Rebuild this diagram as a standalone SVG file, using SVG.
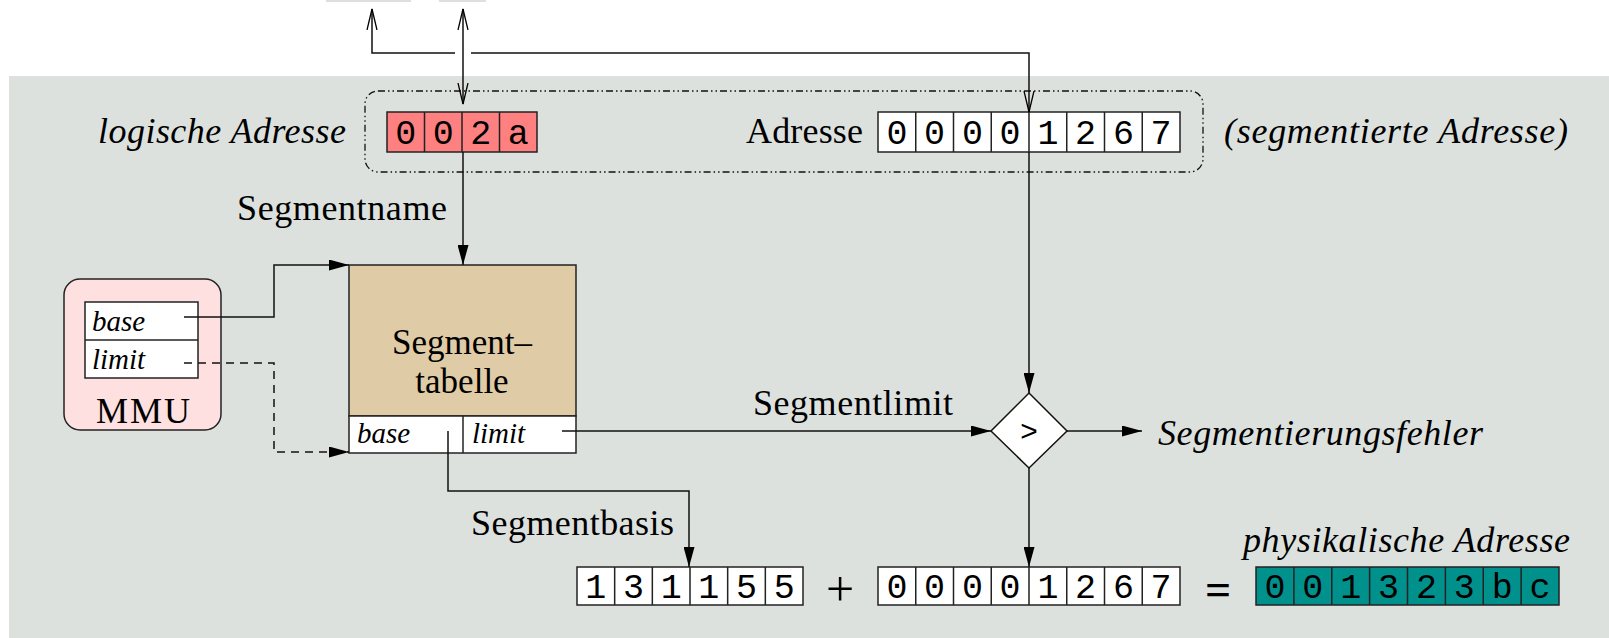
<svg xmlns="http://www.w3.org/2000/svg" width="1609" height="638" viewBox="0 0 1609 638">
<style>
.bg{fill:#dde1de}
.ln{fill:none;stroke:#111;stroke-width:1.5}
.cell{stroke:#222;stroke-width:1.5}
.lbl{font-family:"Liberation Serif",serif;font-size:36px;fill:#000}
.it{font-family:"Liberation Serif",serif;font-style:italic;font-size:36px;fill:#000}
.sit{font-family:"Liberation Serif",serif;font-style:italic;font-size:29px;fill:#000}
.dg{font-family:"Liberation Mono",monospace;font-size:35px;fill:#000;text-anchor:middle}
</style>
<defs>
<marker id="fa" viewBox="0 0 20 11" refX="20" refY="5.5" markerWidth="20" markerHeight="11" markerUnits="userSpaceOnUse" orient="auto"><path d="M0,0 L20,5.5 L0,11 z" fill="#000"/></marker>
<marker id="oa" viewBox="0 0 22 12" refX="21" refY="6" markerWidth="22" markerHeight="12" markerUnits="userSpaceOnUse" orient="auto-start-reverse"><path d="M0,1 L21,6 L0,11" fill="none" stroke="#000" stroke-width="1.3"/></marker>
</defs>
<rect class="bg" x="9" y="76" width="1600" height="562"/>
<rect class="bg" x="326" y="0" width="85" height="2"/>
<rect class="bg" x="439" y="0" width="47" height="2"/>

<g id="addr-frame">
<rect x="365" y="91" width="838" height="81" rx="13" fill="none" stroke="#111" stroke-width="1.3" stroke-dasharray="7 3 1.5 3 1.5 3"/>
</g>

<g id="logical">
<text class="it" x="98" y="143" textLength="248">logische Adresse</text>
<rect x="387" y="112" width="150" height="40" fill="#ff8080" class="cell"/>
<path d="M424.5,112V152M462,112V152M499.5,112V152" class="cell"/>
<text class="dg" y="143.5"><tspan x="405.75">0</tspan><tspan x="443.25">0</tspan><tspan x="480.75">2</tspan><tspan x="518.25">a</tspan></text>
</g>

<g id="seg-addr">
<text class="lbl" x="746" y="143" textLength="117">Adresse</text>
<rect x="878" y="112" width="302" height="40" fill="#fff" class="cell"/>
<path d="M915.75,112V152M953.5,112V152M991.25,112V152M1029,112V152M1066.75,112V152M1104.5,112V152M1142.25,112V152" class="cell"/>
<text class="dg" y="143.5"><tspan x="896.9">0</tspan><tspan x="934.6">0</tspan><tspan x="972.4">0</tspan><tspan x="1010.1">0</tspan><tspan x="1047.9">1</tspan><tspan x="1085.6">2</tspan><tspan x="1123.4">6</tspan><tspan x="1161.1">7</tspan></text>
<text class="it" x="1224" y="143" textLength="344">(segmentierte Adresse)</text>
</g>

<g id="segname-label">
<text class="lbl" x="237" y="220" textLength="210">Segmentname</text>
</g>

<g id="mmu">
<rect x="64" y="279" width="157" height="151" rx="16" fill="#ffe0e0" stroke="#222" stroke-width="1.5"/>
<rect x="85" y="302" width="113" height="76" fill="#fff" class="cell"/>
<path d="M85,340H198" class="cell"/>
<text class="sit" x="92" y="331">base</text>
<text class="sit" x="92" y="369">limit</text>
<text class="lbl" x="143" y="423" text-anchor="middle" textLength="94">MMU</text>
</g>

<g id="segtable">
<rect x="349" y="265" width="227" height="151" fill="#dfcba5" class="cell"/>
<rect x="349" y="416" width="227" height="37" fill="#fff" class="cell"/>
<path d="M463,416V453" class="cell"/>
<text class="lbl" text-anchor="middle" style="font-size:35px"><tspan x="462" y="354">Segment–</tspan><tspan x="462" y="393">tabelle</tspan></text>
<text class="sit" x="357" y="443">base</text>
<text class="sit" x="472" y="443">limit</text>
</g>

<g id="compare">
<path d="M1029,393 L1067,431 L1029,468 L991,431 Z" fill="#fff" stroke="#111" stroke-width="1.5"/>
<text class="dg" x="1029" y="441" style="font-size:30px">&gt;</text>
</g>

<g id="labels">
<text class="lbl" x="753" y="415" textLength="200">Segmentlimit</text>
<text class="it" x="1158" y="445" textLength="325">Segmentierungsfehler</text>
<text class="lbl" x="471" y="535" textLength="203">Segmentbasis</text>
<text class="it" x="1243" y="552" textLength="327">physikalische Adresse</text>
</g>

<g id="base-val">
<rect x="577" y="567" width="226" height="38" fill="#fff" class="cell"/>
<path d="M614.67,567V605M652.33,567V605M690,567V605M727.67,567V605M765.33,567V605" class="cell"/>
<text class="dg" y="597.5"><tspan x="595.8">1</tspan><tspan x="633.5">3</tspan><tspan x="671.2">1</tspan><tspan x="708.8">1</tspan><tspan x="746.5">5</tspan><tspan x="784.2">5</tspan></text>
</g>

<g id="plus"><text class="lbl" x="840" y="606" text-anchor="middle" style="font-size:50px">+</text></g>

<g id="offset-val">
<rect x="878" y="567" width="302" height="38" fill="#fff" class="cell"/>
<path d="M915.75,567V605M953.5,567V605M991.25,567V605M1029,567V605M1066.75,567V605M1104.5,567V605M1142.25,567V605" class="cell"/>
<text class="dg" y="597.5"><tspan x="896.9">0</tspan><tspan x="934.6">0</tspan><tspan x="972.4">0</tspan><tspan x="1010.1">0</tspan><tspan x="1047.9">1</tspan><tspan x="1085.6">2</tspan><tspan x="1123.4">6</tspan><tspan x="1161.1">7</tspan></text>
</g>

<g id="equals"><text class="lbl" x="1218" y="605" text-anchor="middle" style="font-size:46px;font-weight:bold">=</text></g>

<g id="phys-val">
<rect x="1256" y="567" width="303" height="38" fill="#00918c" class="cell"/>
<path d="M1293.9,567V605M1331.75,567V605M1369.6,567V605M1407.5,567V605M1445.4,567V605M1483.25,567V605M1521.1,567V605" class="cell"/>
<text class="dg" y="597.5"><tspan x="1274.9">0</tspan><tspan x="1312.8">0</tspan><tspan x="1350.7">1</tspan><tspan x="1388.6">3</tspan><tspan x="1426.4">2</tspan><tspan x="1464.3">3</tspan><tspan x="1502.2">b</tspan><tspan x="1540.1">c</tspan></text>
</g>

<g id="connectors">
<path class="ln" d="M455,53 H372 V9" marker-end="url(#oa)"/>
<path class="ln" d="M471,53 H1029 V112" marker-end="url(#oa)"/>
<path class="ln" d="M463,9 V104" marker-start="url(#oa)" marker-end="url(#oa)"/>
<path class="ln" d="M463,152 V265" marker-end="url(#fa)"/>
<path class="ln" d="M1029,152 V393" marker-end="url(#fa)"/>
<path class="ln" d="M562,431 H991" marker-end="url(#fa)"/>
<path class="ln" d="M1067,431 H1142" marker-end="url(#fa)"/>
<path class="ln" d="M1029,468 V567" marker-end="url(#fa)"/>
<path class="ln" d="M448,431 V491 H689 V567" marker-end="url(#fa)"/>
<path class="ln" d="M184,317 H274 V265 H349" marker-end="url(#fa)"/>
<path class="ln" d="M184,363 H274 V452 H349" stroke-dasharray="8 6" marker-end="url(#fa)"/>
</g>
</svg>
